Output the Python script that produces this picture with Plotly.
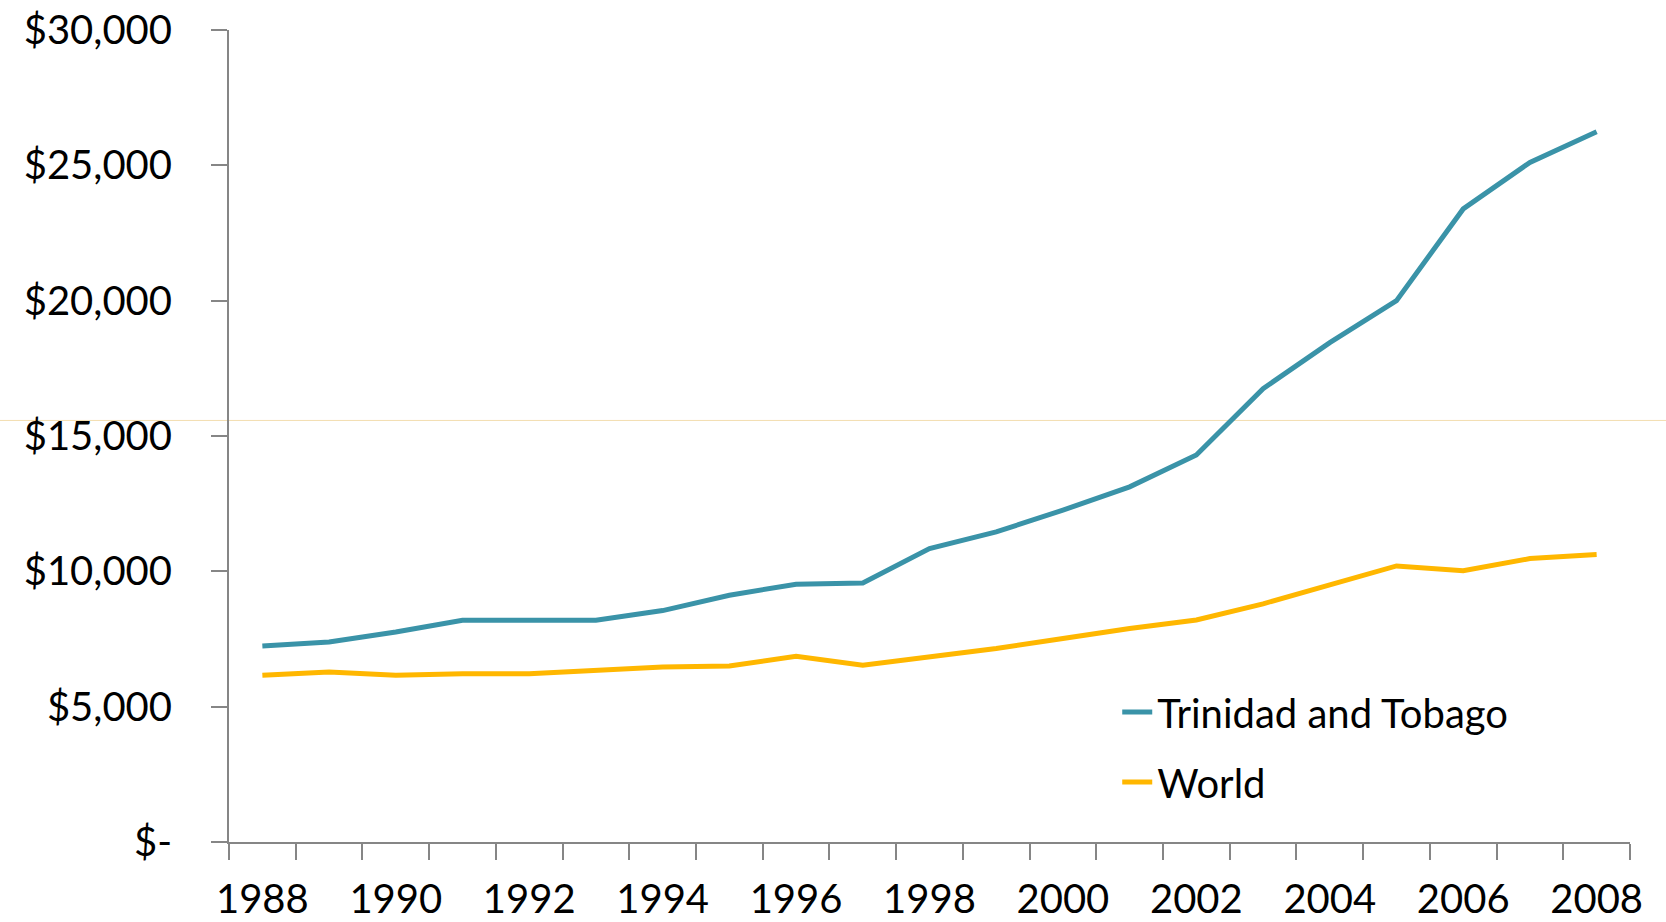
import plotly.graph_objects as go

years = list(range(1988, 2009))
trinidad = [7244, 7392, 7762, 8194, 8194, 8194, 8550, 9118, 9525, 9573, 10844,
            11458, 12260, 13121, 14300, 16750, 18450, 20000, 23390, 25110, 26240]
world = [6160, 6280, 6160, 6220, 6220, 6350, 6470, 6500, 6860, 6530, 6820,
         7150, 7520, 7890, 8200, 8800, 9500, 10200, 10020, 10470, 10620]

series_names = ["Trinidad and Tobago", "World"]
series_colors = ["#3A93A8", "#FFB700"]

y_tickvals = [0, 5000, 10000, 15000, 20000, 25000, 30000]
y_ticktext = ["$-", "$5,000", "$10,000", "$15,000", "$20,000", "$25,000", "$30,000"]
x_tickvals = list(range(1988, 2009, 2))
x_ticktext = [str(v) for v in x_tickvals]
x_boundaries = [y - 0.5 for y in years] + [years[-1] + 0.5]
stray_line_value = 15575

FONT = "Lato, 'Open Sans', sans-serif"

fig = go.Figure()
for name, vals, col in zip(series_names, [trinidad, world], series_colors):
    fig.add_trace(go.Scatter(x=years, y=vals, mode="lines", name=name,
                             legendgroup=name,
                             line=dict(color=col, width=5)))

axis_col = "#868686"
fig.update_layout(
    width=1666, height=922,
    margin=dict(l=229, r=36, t=30, b=80),
    paper_bgcolor="white", plot_bgcolor="white",
    font=dict(family=FONT, size=40, color="black"),
    legend=dict(x=0.634, y=0.2, xanchor="left", yanchor="top",
                bgcolor="rgba(0,0,0,0)", font=dict(size=40, family=FONT),
                tracegroupgap=15, itemwidth=30),
    xaxis=dict(range=[x_boundaries[0], x_boundaries[-1]],
               tickvals=x_tickvals, ticktext=x_ticktext,
               ticks="outside", ticklen=16, tickcolor="rgba(0,0,0,0)",
               ticklabelstandoff=5, automargin=False, ticklabeloverflow="allow",
               showline=True, linecolor=axis_col, linewidth=2,
               showgrid=False, zeroline=False,
               tickfont=dict(size=40, family=FONT),
               minor=dict(tickvals=x_boundaries, ticks="outside", ticklen=16,
                          tickcolor=axis_col, tickwidth=2, showgrid=False)),
    yaxis=dict(range=[0, 30000], tickvals=y_tickvals, ticktext=y_ticktext,
               ticks="outside", ticklen=16, tickcolor=axis_col, tickwidth=2,
               ticklabelstandoff=31, automargin=False, ticklabeloverflow="allow",
               showline=True, linecolor=axis_col, linewidth=2,
               showgrid=False, zeroline=False,
               tickfont=dict(size=40, family=FONT)),
    shapes=[dict(type="line", xref="paper", yref="y", x0=-0.3, x1=1.1,
                 y0=stray_line_value, y1=stray_line_value,
                 line=dict(color="#F3DDB0", width=1), layer="below")],
)

fig.write_html("out.html",
               config={"displayModeBar": False},
               post_script="document.body.style.margin='0';"
                           "document.body.style.overflow='hidden';")
